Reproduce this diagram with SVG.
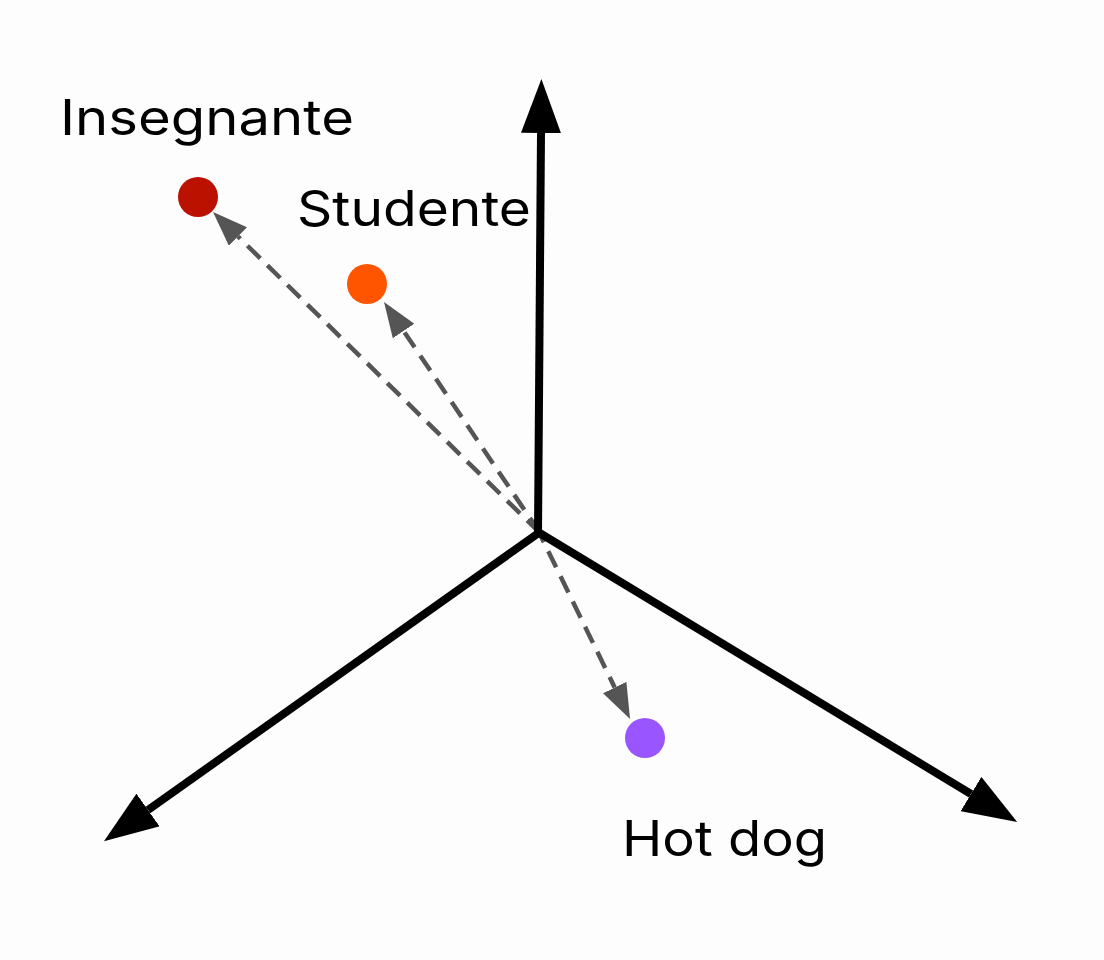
<svg xmlns="http://www.w3.org/2000/svg" width="1104" height="960" viewBox="0 0 1104 960">
<style>
.axis{stroke:#000;stroke-width:8;fill:none;stroke-linecap:butt}
.vec{stroke:#555;stroke-width:4.5;fill:none;stroke-dasharray:18 10}
.lbl{font-family:Inter,"Liberation Sans",sans-serif;font-size:49px;fill:#000}
</style>
<defs>
<marker id="big" markerUnits="userSpaceOnUse" markerWidth="54" markerHeight="40" refX="0" refY="20" orient="auto" viewBox="0 0 54 40">
<polygon points="0,0 54,20 0,40" fill="#000"/>
</marker>
<marker id="small" markerUnits="userSpaceOnUse" markerWidth="35" markerHeight="26" refX="0" refY="13" orient="auto" viewBox="0 0 35 26">
<polygon points="0,0 35,13 0,26" fill="#555"/>
</marker>
</defs>
<rect width="1104" height="960" fill="#fdfdfd"/>
<g id="connectors">
<line class="vec" x1="540" y1="533" x2="238" y2="236.5" marker-end="url(#small)"/>
<line class="vec" x1="540" y1="533" x2="403.6" y2="331" marker-end="url(#small)"/>
<line class="vec" x1="536" y1="526" x2="614.7" y2="687.5" marker-end="url(#small)"/>
<line class="axis" x1="538" y1="533" x2="541" y2="133" marker-end="url(#big)"/>
<line class="axis" x1="540" y1="532" x2="148" y2="810" marker-end="url(#big)"/>
<line class="axis" x1="538" y1="532" x2="971" y2="794" marker-end="url(#big)"/>
</g>
<g id="insegnante">
<circle cx="198" cy="197" r="20" fill="#bb1100"/>
<text class="lbl" x="60" y="135" textLength="294" lengthAdjust="spacingAndGlyphs">Insegnante</text>
</g>
<g id="studente">
<circle cx="367" cy="284" r="20" fill="#ff5500"/>
<text class="lbl" x="297" y="226" textLength="234" lengthAdjust="spacingAndGlyphs">Studente</text>
</g>
<g id="hotdog">
<circle cx="645" cy="738" r="20" fill="#9955ff"/>
<text class="lbl" x="622" y="856" textLength="205" lengthAdjust="spacingAndGlyphs">Hot dog</text>
</g>
</svg>
